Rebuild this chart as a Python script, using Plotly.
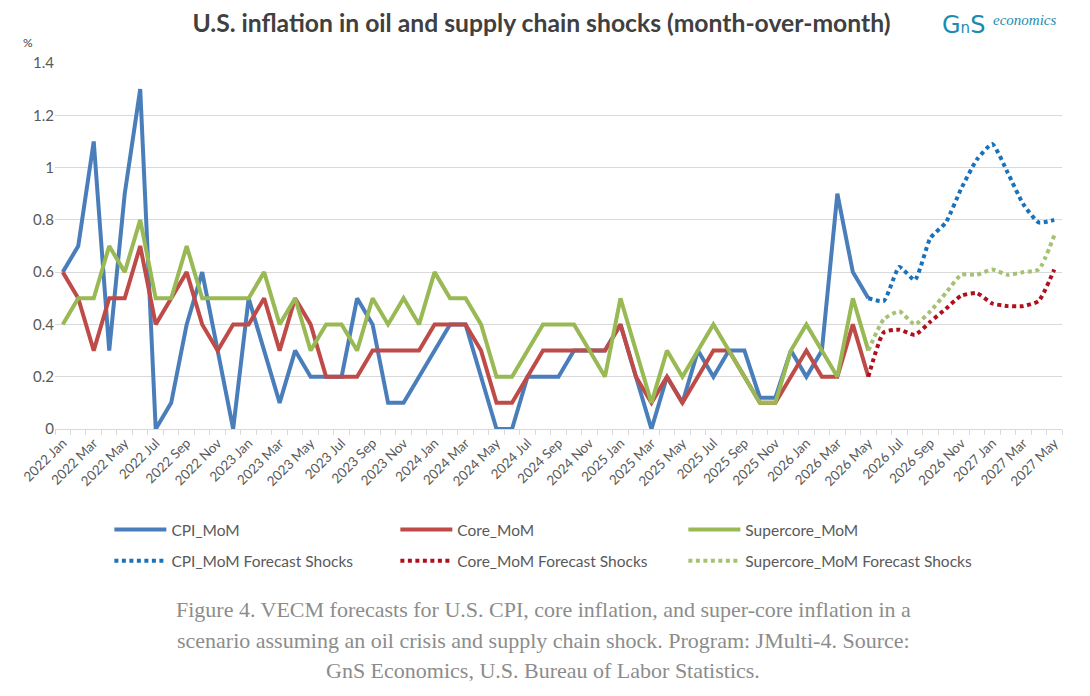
import plotly.graph_objects as go

# monthly categories 2022 Jan .. 2027 May
month_names = ["Jan", "Feb", "Mar", "Apr", "May", "Jun",
               "Jul", "Aug", "Sep", "Oct", "Nov", "Dec"]
months = [f"{y} {m}" for y in range(2022, 2028) for m in month_names][:65]

# observed series, 2022 Jan .. 2026 May
cpi = [0.6, 0.7, 1.1, 0.3, 0.9, 1.3, 0.0, 0.1, 0.4, 0.6, 0.3, 0.0,
       0.5, 0.3, 0.1, 0.3, 0.2, 0.2, 0.2, 0.5, 0.4, 0.1, 0.1, 0.2,
       0.3, 0.4, 0.4, 0.2, 0.0, 0.0, 0.2, 0.2, 0.2, 0.3, 0.3, 0.3,
       0.4, 0.2, 0.0, 0.2, 0.1, 0.3, 0.2, 0.3, 0.3, 0.12, 0.12, 0.3,
       0.2, 0.3, 0.9, 0.6, 0.5]
core = [0.6, 0.5, 0.3, 0.5, 0.5, 0.7, 0.4, 0.5, 0.6, 0.4, 0.3, 0.4,
        0.4, 0.5, 0.3, 0.5, 0.4, 0.2, 0.2, 0.2, 0.3, 0.3, 0.3, 0.3,
        0.4, 0.4, 0.4, 0.3, 0.1, 0.1, 0.2, 0.3, 0.3, 0.3, 0.3, 0.3,
        0.4, 0.2, 0.1, 0.2, 0.1, 0.2, 0.3, 0.3, 0.2, 0.1, 0.1, 0.2,
        0.3, 0.2, 0.2, 0.4, 0.2]
supercore = [0.4, 0.5, 0.5, 0.7, 0.6, 0.8, 0.5, 0.5, 0.7, 0.5, 0.5, 0.5,
             0.5, 0.6, 0.4, 0.5, 0.3, 0.4, 0.4, 0.3, 0.5, 0.4, 0.5, 0.4,
             0.6, 0.5, 0.5, 0.4, 0.2, 0.2, 0.3, 0.4, 0.4, 0.4, 0.3, 0.2,
             0.5, 0.3, 0.1, 0.3, 0.2, 0.3, 0.4, 0.3, 0.2, 0.1, 0.1, 0.3,
             0.4, 0.3, 0.2, 0.5, 0.3]

# forecast shocks, 2026 May .. 2027 May
cpi_fc = [0.5, 0.49, 0.62, 0.57, 0.73, 0.79, 0.92, 1.03, 1.09, 0.98, 0.86, 0.79, 0.8]
core_fc = [0.2, 0.37, 0.38, 0.36, 0.41, 0.46, 0.51, 0.52, 0.48, 0.47, 0.47, 0.49, 0.61]
supercore_fc = [0.3, 0.42, 0.45, 0.4, 0.45, 0.52, 0.59, 0.59, 0.61, 0.59, 0.6, 0.61, 0.74]

idx = list(range(len(months)))
obs_x = idx[:len(cpi)]
fc_x = idx[len(cpi) - 1:]

gray = "#595959"
fig = go.Figure()

# one legend per entry so the 3x2 grid lines up like the original
leg_x = [0.054, 0.338, 0.624]
leg_y = [-0.276, -0.361]

solid = [("CPI_MoM", cpi, "#4a7ebb"),
         ("Core_MoM", core, "#be4b48"),
         ("Supercore_MoM", supercore, "#98b954")]
dotted = [("CPI_MoM Forecast Shocks", cpi_fc, "#1a72bb"),
          ("Core_MoM Forecast Shocks", core_fc, "#b0101c"),
          ("Supercore_MoM Forecast Shocks", supercore_fc, "#a6c172")]

legends = {}
n = 0
for row, group in enumerate([solid, dotted]):
    for col, (name, vals, colour) in enumerate(group):
        n += 1
        key = "legend" if n == 1 else f"legend{n}"
        legends[key] = dict(x=leg_x[col], y=leg_y[row], xanchor="left", yanchor="middle",
                            orientation="h", bgcolor="rgba(0,0,0,0)", itemwidth=52,
                            font=dict(family="Lato", size=15.5, color=gray))
        if row == 0:
            line = dict(color=colour, width=4)
            xs = obs_x
        else:
            line = dict(color=colour, width=4, dash="4px,3.5px",
                        shape="spline", smoothing=0.5)
            xs = fc_x
        fig.add_trace(go.Scatter(x=xs, y=vals, name=name, mode="lines",
                                 line=line, legend=key))

fig.update_xaxes(range=[-0.5, len(months) - 0.5],
                 tickmode="array", tickvals=idx[::2], ticktext=months[::2],
                 tickangle=-45, ticks="", showgrid=False,
                 showline=True, linecolor="#d9d9d9", linewidth=1,
                 tickfont=dict(family="Lato", size=13.5, color=gray),
                 minor=dict(tickmode="linear", tick0=-0.5, dtick=1,
                            ticks="outside", ticklen=5, tickcolor="#d9d9d9",
                            showgrid=False),
                 zeroline=False)
fig.update_yaxes(range=[0, 1.4], dtick=0.2, showgrid=True, gridcolor="#d9d9d9",
                 gridwidth=1, zeroline=False, showline=False,
                 tickfont=dict(family="Lato", size=15, color=gray),
                 tickformat="~g")

fig.update_layout(
    width=1082, height=688,
    margin=dict(l=44, r=28, t=55, b=267),
    plot_bgcolor="white", paper_bgcolor="white",
    title=dict(text="<b>U.S. inflation in oil and supply chain shocks (month-over-month)</b>",
               x=0.493, xanchor="center", y=0.977, yanchor="middle",
               font=dict(family="Lato", size=24.7, color="#404040")),
    showlegend=True,
    **legends,
)

# axis unit
fig.add_annotation(text="%", xref="paper", yref="paper", x=-0.0267, y=1.057,
                   xanchor="center", yanchor="middle", showarrow=False,
                   font=dict(family="Lato", size=12, color="#404040"))

# logo
fig.add_annotation(text="G<span style='font-size:15px'>n</span>S",
                   xref="paper", yref="paper", x=0.879, y=1.104,
                   xanchor="left", yanchor="middle", showarrow=False,
                   font=dict(family="DejaVu Sans", size=24, color="#1d8bb0"))
fig.add_annotation(text="<i>economics</i>", xref="paper", yref="paper",
                   x=0.929, y=1.1175, xanchor="left", yanchor="middle",
                   showarrow=False,
                   font=dict(family="Liberation Serif", size=15, color="#1d8bb0"))

# caption, one annotation per line
caption = ["Figure 4. VECM forecasts for U.S. CPI, core inflation, and super-core inflation in a",
           "scenario assuming an oil crisis and supply chain shock. Program: JMulti-4. Source:",
           "GnS Economics, U.S. Bureau of Labor Statistics."]
for line_text, yy in zip(caption, [-0.4945, -0.579, -0.661]):
    fig.add_annotation(text=line_text, xref="paper", yref="paper", x=0.4849, y=yy,
                       xanchor="center", yanchor="middle", showarrow=False,
                       font=dict(family="Liberation Serif", size=22, color="#8c8c8c"))

fig.write_html("out.html")
